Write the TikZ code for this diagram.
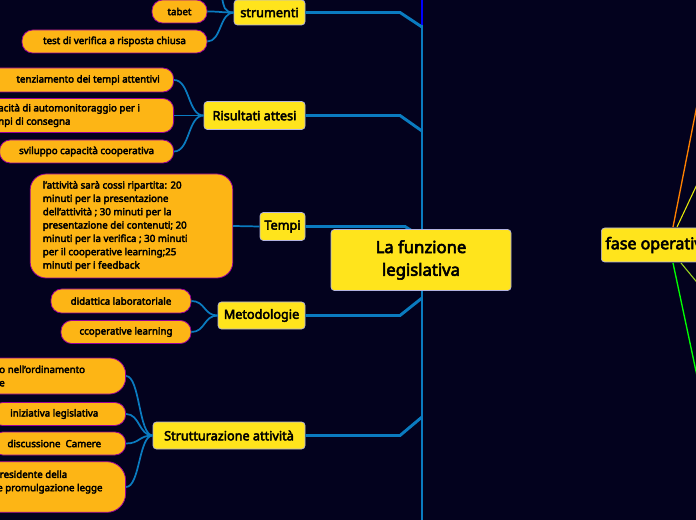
\documentclass[tikz,border=0pt]{standalone}
\usepackage{fontspec}
\setmainfont{Noto Sans}[AutoFakeBold=3.5]
\begin{document}
\begin{tikzpicture}[x=0.75pt,y=-0.75pt,
  branch/.style={draw=black!40!blue!30,fill=topic,rounded corners=2.5pt,line width=0.5pt,font=\bfseries\fontsize{9.5}{11}\selectfont,inner sep=0pt,align=center},
  leaf/.style={draw=violet!80!magenta,fill=leafc,rounded corners=8pt,line width=0.6pt,font=\bfseries\fontsize{7.3}{10}\selectfont,inner sep=0pt,align=center},
  ltext/.style={font=\bfseries\fontsize{7.3}{10}\selectfont,align=left,inner sep=0pt},
  conn/.style={draw=trunk,line width=2.2pt},
  sub/.style={draw=trunk,line width=1.3pt}]
\definecolor{bg}{HTML}{03021E}
\definecolor{topic}{HTML}{FFE41C}
\definecolor{leafc}{HTML}{FDB515}
\definecolor{trunk}{HTML}{0A7BC0}
\useasboundingbox (0,0) rectangle (696,520);
\clip (0,0) rectangle (696,520);
\fill[bg] (0,0) rectangle (696,520);
% trunk
\draw[trunk,line width=2.2pt] (422,25) -- (422,525);
\draw[blue,line width=2.2pt] (422,-5) -- (422,25);
% branches
\node[branch,minimum width=53.25pt,minimum height=18.75pt] (str) at (269.5,12.5) {strumenti};
\node[branch,minimum width=75.75pt,minimum height=21pt] (ris) at (254.5,115.5) {Risultati attesi};
\node[branch,minimum width=33.75pt,minimum height=21pt] (tem) at (282.5,226.5) {Tempi};
\node[branch,minimum width=65.25pt,minimum height=20.25pt] (met) at (261.5,315.5) {Metodologie};
\node[branch,minimum width=114pt,minimum height=20.25pt] (stru) at (229,435.5) {Strutturazione attività};
% trunk connectors
\coordinate (j1) at (422,27); \coordinate (j2) at (422,131);
\coordinate (j3) at (420,236); \coordinate (j4) at (422,298); \coordinate (j5) at (422,417);
\draw[conn] (str.east) -- (400,12.5) -- (j1);
\draw[conn] (ris.east) -- (400,115.5) -- (j2);
\draw[conn] (tem.east) -- (405,226.5) -- (j3);
\draw[conn] (met.east) -- (400,315.5) -- (j4);
\draw[conn] (stru.east) -- (400,435.5) -- (j5);
\node[branch,minimum width=135pt,minimum height=45.75pt,font=\bfseries\fontsize{12.5}{17}\selectfont] (main) at (421,260) {La funzione\\legislativa};
% leaves
\node[leaf,minimum width=41.25pt,minimum height=17.25pt] (tab) at (179.5,11.5) {tabet};
\node[leaf,minimum width=138.75pt,minimum height=17.25pt] (test) at (114.5,41.5) {test di verifica a risposta chiusa};
\node[leaf,anchor=east,minimum width=190pt,minimum height=18pt] (r1) at (174,80) {};
\node[ltext,anchor=east] at (160,80) {tenziamento dei tempi attentivi};
\node[leaf,anchor=east,minimum width=190pt,minimum height=25.5pt] (r2) at (174,115.5) {};
\node[ltext,anchor=west] at (-2,115.5) {acità di automonitoraggio per i\\npi di consegna};
\node[leaf,anchor=east,minimum width=130.5pt,minimum height=17.25pt] (r3) at (174,151.5) {sviluppo capacità cooperativa};
\node[leaf,rounded corners=12pt,minimum width=152pt,minimum height=78pt,align=left] (t1) at (131.5,226) {\parbox{133pt}{\raggedright l'attività sarà cossi ripartita: 20\\ minuti per la presentazione\\ dell'attività ; 30 minuti per la\\ presentazione dei contenuti; 20\\ minuti per la verifica ; 30 minuti\\ per il cooperative learning;25\\ minuti per i feedback}};
\node[leaf,minimum width=105pt,minimum height=18pt] (m1) at (121,301) {didattica laboratoriale};
\node[leaf,minimum width=97.5pt,minimum height=17.25pt] (m2) at (126,332) {ccoperative learning};
\node[leaf,anchor=east,minimum width=130pt,minimum height=27pt,rounded corners=12pt] (s1) at (126,376) {};
\node[ltext,anchor=west] at (-1,376) {o nell'ordinamento\\e};
\node[leaf,anchor=east,minimum width=100pt,minimum height=17.25pt] (s2) at (126,414) {\hspace*{5pt}iniziativa legislativa\hspace*{12pt}};
\node[leaf,anchor=east,minimum width=100pt,minimum height=17.25pt] (s3) at (126,443.5) {\hspace*{5pt}discussione\ \ Camere\hspace*{12pt}};
\node[leaf,anchor=east,minimum width=130pt,minimum height=38pt,rounded corners=14pt] (s4) at (126,487) {};
\node[ltext,anchor=west] at (-3,482) {\ residente della\\e promulgazione legge};
% sub connectors
\coordinate (up) at (222,-2);
\foreach \c in {tab,test} \draw[sub] (str.west) .. controls +(-14,0) and +(14,0) .. (\c.east);
\draw[sub] (str.west) .. controls +(-10,0) and +(2,8) .. (up);
\foreach \c in {r1,r2,r3} \draw[sub] (ris.west) .. controls +(-16,0) and +(16,0) .. (\c.east);
\draw[sub] (tem.west) -- (t1.east);
\foreach \c in {m1,m2} \draw[sub] (met.west) .. controls +(-14,0) and +(14,0) .. (\c.east);
\foreach \c in {s1,s2,s3,s4} \draw[sub] (stru.west) .. controls +(-14,0) and +(14,0) .. (\c.east);
% right side lines
\coordinate (o1) at (700,90); \coordinate (o2) at (700,178); \coordinate (o3) at (700,286); \coordinate (o4) at (700,390);
\draw[orange,line width=1pt] (673,227) -- (o1);
\draw[yellow!90!green,line width=0.8pt] (677,227) -- (o2);
\draw[yellow!60!green,line width=0.8pt] (681,263) -- (o3);
\draw[green,line width=1pt] (673,263) -- (o4);
\node[branch,anchor=west,minimum width=120pt,minimum height=25.5pt,font=\bfseries\fontsize{12}{14}\selectfont,align=left] (fase) at (601,245) {\hspace*{3pt}fase operativa\hspace*{40pt}};
\end{tikzpicture}
\end{document}
